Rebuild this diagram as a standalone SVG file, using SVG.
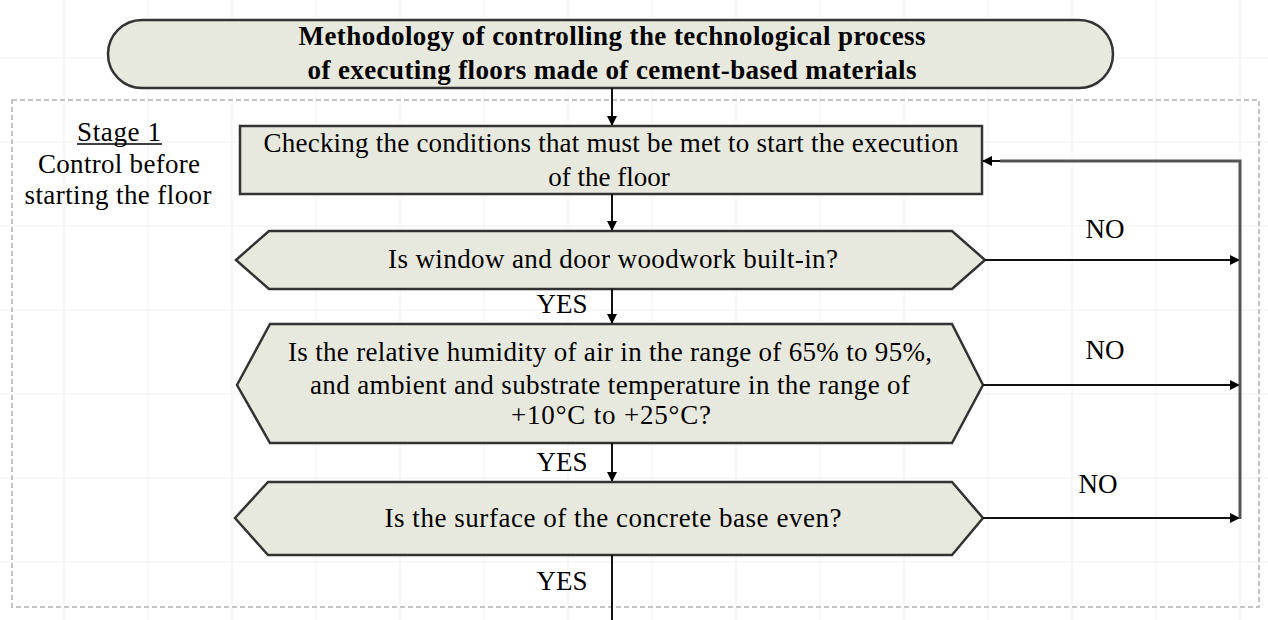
<svg xmlns="http://www.w3.org/2000/svg" width="1268" height="620" viewBox="0 0 1268 620">
<style>
.grid line{stroke:#f0f0f0;stroke-width:1}
.shape{fill:#e8e9de;stroke:#333;stroke-width:2.5}
.t{font-family:"Liberation Serif","Times New Roman",serif;font-size:27px;fill:#000}
.tb{font-family:"Liberation Serif","Times New Roman",serif;font-size:27px;font-weight:bold;fill:#000}
.c{text-anchor:middle}
.conn{stroke:#111;stroke-width:2;fill:none}
.loop{stroke:#555;stroke-width:3;fill:none}
</style>
<defs>
<marker id="ah" markerWidth="10" markerHeight="10" refX="9" refY="5" orient="auto" markerUnits="userSpaceOnUse">
<path d="M0,0 L10,5 L0,10 Z" fill="#000"/>
</marker>
</defs>
<rect width="1268" height="620" fill="#fff"/>
<g class="grid">
<line x1="64" y1="0" x2="64" y2="620"/><line x1="148" y1="0" x2="148" y2="620"/><line x1="232" y1="0" x2="232" y2="620"/><line x1="316" y1="0" x2="316" y2="620"/><line x1="400" y1="0" x2="400" y2="620"/><line x1="484" y1="0" x2="484" y2="620"/><line x1="568" y1="0" x2="568" y2="620"/><line x1="652" y1="0" x2="652" y2="620"/><line x1="736" y1="0" x2="736" y2="620"/><line x1="820" y1="0" x2="820" y2="620"/><line x1="904" y1="0" x2="904" y2="620"/><line x1="988" y1="0" x2="988" y2="620"/><line x1="1072" y1="0" x2="1072" y2="620"/><line x1="1156" y1="0" x2="1156" y2="620"/><line x1="1240" y1="0" x2="1240" y2="620"/>
<line x1="0" y1="58" x2="1268" y2="58"/><line x1="0" y1="142" x2="1268" y2="142"/><line x1="0" y1="226" x2="1268" y2="226"/><line x1="0" y1="310" x2="1268" y2="310"/><line x1="0" y1="394" x2="1268" y2="394"/><line x1="0" y1="478" x2="1268" y2="478"/><line x1="0" y1="562" x2="1268" y2="562"/>
</g>
<rect x="12" y="100" width="1247" height="507" fill="none" stroke="#c4c4c4" stroke-width="2" stroke-dasharray="5,3"/>
<g id="stage1">
<text class="t c" x="119" y="141" textLength="84">Stage 1</text>
<line x1="77" y1="144" x2="162" y2="144" stroke="#000" stroke-width="1.5"/>
<text class="t c" x="119" y="173" textLength="162">Control before</text>
<text class="t c" x="118" y="204" textLength="187">starting the floor</text>
</g>
<g id="title">
<rect class="shape" x="108" y="20" width="1005" height="68" rx="34" ry="34"/>
<text class="tb c" x="612" y="45" textLength="627">Methodology of controlling the technological process</text>
<text class="tb c" x="612" y="79" textLength="609">of executing floors made of cement-based materials</text>
</g>
<g id="check">
<rect class="shape" x="240" y="126" width="742" height="68"/>
<text class="t c" x="611" y="152" textLength="695">Checking the conditions that must be met to start the execution</text>
<text class="t c" x="609" y="186">of the floor</text>
</g>
<g id="decision1">
<polygon class="shape" points="236,260 269,231 952,231 985,260 952,289 269,289"/>
<text class="t c" x="613" y="268" textLength="450">Is window and door woodwork built-in?</text>
</g>
<g id="decision2">
<polygon class="shape" points="237,385 270,324 952,324 983,385 952,443 270,443"/>
<text class="t c" x="610" y="361" textLength="644">Is the relative humidity of air in the range of 65% to 95%,</text>
<text class="t c" x="610" y="394" textLength="600">and ambient and substrate temperature in the range of</text>
<text class="t c" x="611" y="424" textLength="200">+10°C to +25°C?</text>
</g>
<g id="decision3">
<polygon class="shape" points="235,518 268,482 952,482 983,518 952,555 268,555"/>
<text class="t c" x="613" y="527" textLength="457">Is the surface of the concrete base even?</text>
</g>
<g id="connectors">
<line class="conn" x1="612" y1="88" x2="612" y2="125" marker-end="url(#ah)"/>
<line class="conn" x1="612" y1="194" x2="612" y2="230" marker-end="url(#ah)"/>
<line class="conn" x1="612" y1="289" x2="612" y2="323" marker-end="url(#ah)"/>
<line class="conn" x1="612" y1="443" x2="612" y2="481" marker-end="url(#ah)"/>
<line class="conn" x1="612" y1="555" x2="612" y2="620"/>
<line class="conn" x1="985" y1="260" x2="1239" y2="260" marker-end="url(#ah)"/>
<line class="conn" x1="983" y1="385" x2="1239" y2="385" marker-end="url(#ah)"/>
<line class="conn" x1="983" y1="518" x2="1239" y2="518" marker-end="url(#ah)"/>
<polyline class="loop" points="1240,519 1240,161 1000,161"/>
<line class="conn" x1="1000" y1="161" x2="983" y2="161" marker-end="url(#ah)"/>
<text class="t c" x="562" y="313">YES</text>
<text class="t c" x="562" y="471">YES</text>
<text class="t c" x="562" y="590">YES</text>
<text class="t c" x="1105" y="238">NO</text>
<text class="t c" x="1105" y="359">NO</text>
<text class="t c" x="1098" y="493">NO</text>
</g>
</svg>
